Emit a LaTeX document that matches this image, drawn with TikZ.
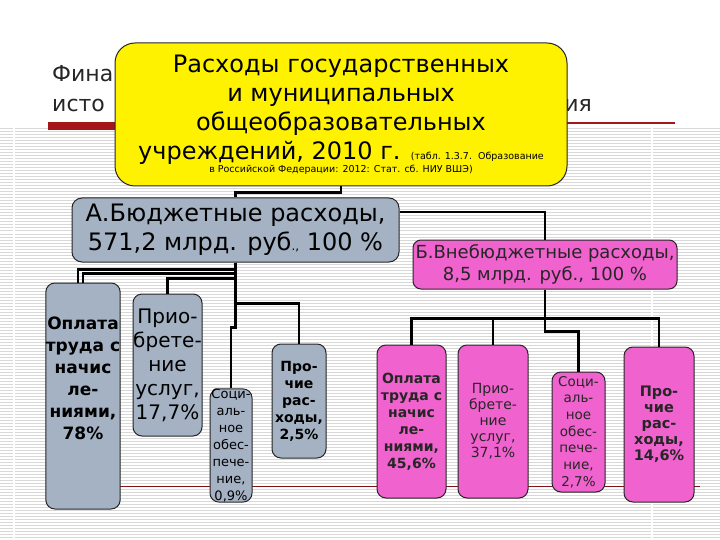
\documentclass[tikz,border=0pt]{standalone}
\usepackage{fontspec}
\setmainfont{DejaVu Sans}
\usetikzlibrary{arrows.meta}

\definecolor{budgetgray}{RGB}{164,178,195}
\definecolor{extrapink}{RGB}{240,98,206}
\definecolor{titlered}{RGB}{165,22,28}
\definecolor{stripegray}{RGB}{216,216,216}
\newcommand{\fs}[2]{\fontsize{#1}{#2}\selectfont}
\tikzset{
  box/.style={draw=black!85,line width=1pt,rounded corners=9pt,align=center,inner sep=0pt},
  boxA/.style={box,fill=budgetgray},
  boxB/.style={box,fill=extrapink,text=black!85},
  link/.style={line width=2.2pt},
  titletext/.style={font=\fs{22}{26},text=black!85,inner sep=0pt},
}

\begin{document}
\begin{tikzpicture}[x=1pt,y=-1pt]
\useasboundingbox (0,0) rectangle (720,540);
\fill[white] (0,0) rectangle (720,540);
\foreach \yy in {129,132,...,540} \draw[stripegray,line width=1pt] (0,\yy)--(720,\yy);
\draw[white,line width=2pt] (14,128)--(14,540) (652,128)--(652,540);
\node[titletext,anchor=base west] (title1) at (52,82) {Фина};
\node[titletext,anchor=base west] (title2) at (52,112) {исто};
\node[titletext,anchor=base east] (title3) at (592,112) {ия};
\fill[titlered] (48,122) rectangle (200,130);
\draw[titlered,line width=1.2pt] (200,123)--(675,123);
\draw[titlered!80!black,line width=0.8pt] (48,486)--(700,486);

\node[box,fill=yellow,rounded corners=20pt,minimum width=452pt,minimum height=143pt,font=\fs{24}{29}] (top) at (341,114.5)
  {Расходы государственных\\ и муниципальных\\ общеобразовательных\\
   учреждений, 2010 г. {\fs{9.5}{11}(табл. 1.3.7.~~Образование}\\[-16pt]
   {\fs{9.5}{11}в Российской Федерации: 2012: Стат. сб. НИУ ВШЭ)}};
\node[boxA,rounded corners=10pt,minimum width=327pt,minimum height=64pt,font=\fs{24}{29}] (budA) at (235.5,230)
  {А.Бюджетные расходы,\\ 571,2 млрд. руб{\fs{12}{12}.,} 100~\%};
\node[boxB,rounded corners=8pt,minimum width=264pt,minimum height=49pt,font=\fs{18}{22}] (extB) at (545,264.5)
  {Б.Внебюджетные расходы,\\ 8,5 млрд. руб., 100~\%};

\node[boxA,minimum width=70pt,minimum height=226pt,font=\bfseries\fs{17}{22}] (oplA) at (83,396)
  {Оплата\\ труда с\\ начис\\ ле-\\ ниями,\\ 78\%\\[14pt]};
\node[boxA,minimum width=69pt,minimum height=142pt,font=\fs{20}{24}] (priA) at (167.5,365)
  {Прио-\\ брете-\\ ние\\ услуг,\\ 17,7\%};
\node[boxA,minimum width=42pt,minimum height=105pt,font=\fs{13}{17}] (socA) at (231,445.5)
  {Соци-\\ аль-\\ ное\\ обес-\\ пече-\\ ние,\\ 0,9\%};
\node[boxA,minimum width=54pt,minimum height=114pt,font=\bfseries\fs{14}{17}] (prA) at (299,401)
  {Про-\\ чие\\ рас-\\ ходы,\\ 2,5\%};

\node[boxB,minimum width=69pt,minimum height=153pt,font=\bfseries\fs{14}{17}] (oplB) at (411.5,421.5)
  {Оплата\\ труда с\\ начис\\ ле-\\ ниями,\\ 45,6\%};
\node[boxB,minimum width=70pt,minimum height=153pt,font=\fs{14}{16}] (priB) at (493,421.5)
  {Прио-\\ брете-\\ ние\\ услуг,\\ 37,1\%};
\node[boxB,minimum width=53pt,minimum height=120pt,font=\fs{13.5}{16.7}] (socB) at (578.5,432)
  {Соци-\\ аль-\\ ное\\ обес-\\ пече-\\ ние,\\ 2,7\%};
\node[boxB,minimum width=70pt,minimum height=155pt,font=\bfseries\fs{14.5}{16}] (prB) at (659,424.5)
  {Про-\\ чие\\ рас-\\ ходы,\\ 14,6\%};

\draw[link] (top.south) -- ++(0,6) -| (budA.north);
\draw[link] ([yshift=18pt]budA.east) -| (extB.north);
\draw[link] (budA.south) -- ++(0,7) -| ([xshift=-5pt]oplA.north);
\draw[link] (budA.south) -- ++(0,11) -| (oplA.north);
\draw[link] (budA.south) -- ++(0,16) -| (priA.north);
\draw[link] (budA.south) -- ++(0,41) -| (prA.north);
\draw[link] (budA.south) -- ++(0,65) -| (socA.north);
\draw[link] (extB.south) -- ++(0,29) coordinate (bj) -| (oplB.north);
\draw[link] (bj) -| (priB.north);
\draw[link] (bj) -| (prB.north);
\draw[link] (extB.south) -- ++(0,42) -| (socB.north);
\end{tikzpicture}
\end{document}
